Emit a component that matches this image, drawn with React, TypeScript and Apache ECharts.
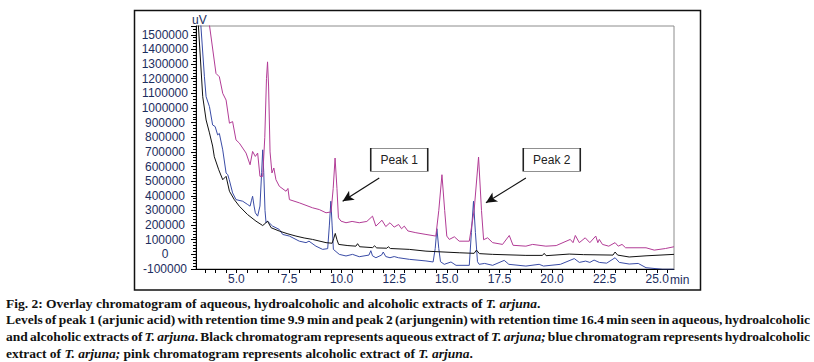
import React, { useEffect, useRef } from "react";
import * as echarts from "echarts";

// retention time (min), signal (uV)
const aqueous: [number, number][] = [
  [3.05, 1900000], [3.4, 1077000], [3.56, 918000], [3.72, 830000], [3.87, 740000],
  [3.95, 667000], [4.16, 578000], [4.35, 510000], [4.51, 533000], [4.67, 431000],
  [4.9, 374000], [5.14, 329000], [5.53, 272000], [5.93, 227000], [6.25, 197000],
  [6.4, 215000], [6.48, 227000], [6.65, 182000], [7.04, 159000], [7.45, 140000],
  [7.83, 125000], [8.22, 112000], [8.62, 102000], [9.26, 80000], [9.55, 76000],
  [9.63, 110000], [9.7, 143000], [9.78, 100000], [9.86, 68000], [10.3, 60000],
  [10.68, 56000], [10.76, 73000], [10.86, 52000], [11.47, 46000], [11.57, 58000],
  [11.67, 44000], [12.15, 42000], [12.22, 52000], [12.32, 40000], [13.22, 34000],
  [14.01, 22000], [15.59, 11000], [16.3, 7000], [16.41, 29000], [16.55, 5000],
  [17.18, 0], [18.76, -7000], [19.55, -7000], [19.63, 7000], [19.72, -9000],
  [20.82, 2000], [21.5, -2000], [22.9, -5000], [23.0, 16000], [23.12, -5000],
  [23.67, -18000], [24.47, -10000], [25.8, 0],
];

const hydroalcoholic: [number, number][] = [
  [3.1, 2000000], [3.48, 1213000], [3.56, 1077000], [3.72, 1009000], [3.87, 884000],
  [3.99, 873000], [4.11, 816000], [4.19, 826000], [4.35, 714000], [4.51, 556000],
  [4.59, 544000], [4.66, 510000], [4.82, 420000], [4.98, 374000], [5.3, 363000],
  [5.54, 340000], [5.65, 329000], [5.72, 370000], [5.77, 397000], [5.84, 330000],
  [5.9, 284000], [6.01, 261000], [6.12, 330000], [6.2, 560000], [6.25, 714000],
  [6.3, 560000], [6.36, 300000], [6.41, 216000], [6.48, 227000], [6.72, 193000],
  [7.04, 170000], [7.2, 136000], [7.52, 125000], [7.99, 90000], [8.31, 80000],
  [8.45, 90000], [8.78, 56000], [9.1, 34000], [9.34, 39000], [9.42, 200000],
  [9.49, 363000], [9.55, 200000], [9.61, 34000], [9.89, 0], [10.21, -11000],
  [10.52, 0], [10.84, -16000], [11.3, -5000], [11.39, 25000], [11.47, -10000],
  [11.63, -23000], [11.9, -5000], [11.98, 16000], [12.1, -15000], [12.3, -23000],
  [12.5, -15000], [12.7, -23000], [13.22, -34000], [14.01, -45000], [14.35, -52000],
  [14.45, 40000], [14.53, 175000], [14.62, 40000], [14.7, -50000], [14.88, -68000],
  [15.2, -52000], [15.44, -75000], [16.07, -75000], [16.17, 150000], [16.27, 363000],
  [16.36, 150000], [16.46, -50000], [16.54, -68000], [16.8, -62000], [17.18, -75000],
  [17.73, -41000], [17.95, -68000], [18.76, -80000], [19.39, -68000], [19.6, -80000],
  [20.4, -68000], [21.06, -29000], [21.3, -55000], [21.6, -46000], [21.8, -55000],
  [22.0, -39000], [22.25, -55000], [22.6, -60000], [23.0, -23000], [23.2, -55000],
  [23.67, -66000], [24.1, -62000], [24.47, -91000], [25.26, -102000], [25.8, -102000],
];

const alcoholic: [number, number][] = [
  [3.5, 1800000], [4.03, 1236000], [4.19, 1213000], [4.35, 1100000], [4.51, 1054000],
  [4.67, 896000], [4.82, 907000], [4.98, 782000], [5.14, 760000], [5.46, 692000],
  [5.65, 612000], [5.77, 703000], [5.9, 669000], [6.01, 692000], [6.12, 533000],
  [6.25, 533000], [6.35, 800000], [6.43, 1200000], [6.48, 1315000], [6.53, 1150000],
  [6.6, 700000], [6.69, 556000], [6.78, 590000], [6.88, 510000], [7.04, 465000],
  [7.36, 431000], [7.45, 450000], [7.52, 374000], [7.99, 352000], [8.62, 318000],
  [8.94, 306000], [9.26, 284000], [9.5, 290000], [9.6, 450000], [9.69, 658000],
  [9.78, 450000], [9.85, 250000], [9.97, 227000], [10.21, 216000], [10.5, 225000],
  [10.84, 216000], [11.2, 225000], [11.47, 261000], [11.63, 193000], [11.92, 233000],
  [12.1, 190000], [12.3, 216000], [12.5, 186000], [12.71, 204000], [12.85, 175000],
  [12.98, 193000], [13.15, 160000], [13.53, 148000], [14.01, 136000], [14.48, 125000],
  [14.62, 300000], [14.77, 544000], [14.9, 300000], [15.0, 125000], [15.12, 102000],
  [15.36, 120000], [15.59, 90000], [16.07, 90000], [16.3, 300000], [16.51, 665000],
  [16.65, 300000], [16.75, 100000], [16.94, 113000], [17.18, 80000], [17.65, 68000],
  [17.97, 129000], [18.15, 62000], [18.76, 56000], [19.08, 68000], [19.71, 56000],
  [20.2, 60000], [20.87, 102000], [21.0, 80000], [21.11, 129000], [21.3, 80000],
  [21.58, 113000], [21.8, 80000], [22.08, 125000], [22.18, 80000], [22.25, 102000],
  [22.4, 68000], [22.7, 56000], [23.0, 80000], [23.15, 56000], [23.33, 68000],
  [23.5, 45000], [24.47, 45000], [24.86, 29000], [25.4, 40000], [25.8, 52000],
];

const xTickValues = [3.5, 4, 4.5, 5, 5.5, 6, 6.5, 7, 7.5, 8, 8.5, 9, 9.5, 10, 10.5, 11, 11.5, 12, 12.5, 13, 13.5, 14, 14.5, 15, 15.5, 16, 16.5, 17, 17.5, 18, 18.5, 19, 19.5, 20, 20.5, 21, 21.5, 22, 22.5, 23, 23.5, 24, 24.5, 25, 25.5];
const xLabelValues = [5, 7.5, 10, 12.5, 15, 17.5, 20, 22.5, 25];

const peakNames = ["Peak 1", "Peak 2"];
const peakBoxAt: [number, number][] = [[12.74, 646000], [19.99, 646000]];
const arrowFrom: [number, number][] = [[11.79, 522000], [18.76, 522000]];
const arrowTo: [number, number][] = [[10.05, 363000], [16.86, 352000]];

const captionLines = [
  "Fig. 2: Overlay chromatogram of aqueous, hydroalcoholic and alcoholic extracts of {i|T. arjuna}.",
  "Levels of peak 1 (arjunic acid) with retention time 9.9 min and peak 2 (arjungenin) with retention time 16.4 min seen in aqueous, hydroalcoholic",
  "and alcoholic extracts of {i|T. arjuna}. Black chromatogram represents aqueous extract of {i|T. arjuna;} blue chromatogram represents hydroalcoholic",
  "extract of {i|T. arjuna;} pink chromatogram represents alcoholic extract of {i|T. arjuna}.",
];
const captionJustified = [false, true, true, false];

const labelColor = "#1c2d5e";
const sans = "Liberation Sans, Arial, sans-serif";
const serifFamily = '"Liberation Serif", "Times New Roman", serif';

type Piece = { t: string; it: boolean };

function parsePieces(s: string): Piece[] {
  const out: Piece[] = [];
  const re = /\{i\|([^}]*)\}/g;
  let last = 0;
  let m: RegExpExecArray | null;
  while ((m = re.exec(s))) {
    if (m.index > last) out.push({ t: s.slice(last, m.index), it: false });
    out.push({ t: m[1], it: true });
    last = m.index + m[0].length;
  }
  if (last < s.length) out.push({ t: s.slice(last), it: false });
  return out;
}

function splitWords(pieces: Piece[]): Piece[][] {
  const words: Piece[][] = [];
  let cur: Piece[] = [];
  for (const p of pieces) {
    const parts = p.t.split(" ");
    parts.forEach((part, idx) => {
      if (idx > 0) {
        if (cur.length) words.push(cur);
        cur = [];
      }
      if (part.length) cur.push({ t: part, it: p.it });
    });
  }
  if (cur.length) words.push(cur);
  return words;
}

export default function App() {
  const ref = useRef<HTMLDivElement>(null);
  useEffect(() => {
    if (!ref.current) return;
    const chart = echarts.init(ref.current, undefined, { renderer: "svg" });
    const captionFont = 13.5;
    const fontOf = (it: boolean) => `${it ? "italic " : ""}bold ${captionFont}px ${serifFamily}`;
    const ctx = document.createElement("canvas").getContext("2d")!;
    const measure = (t: string, it: boolean) => {
      ctx.font = fontOf(it);
      return ctx.measureText(t).width;
    };
    const spaceW = measure(" ", false);
    const captionLeft = 6;
    const captionRight = 810;

    const captionEls: any[] = [];
    captionLines.forEach((line, li) => {
      const words = splitWords(parsePieces(line));
      const widths = words.map((w) => w.reduce((s, p) => s + measure(p.t, p.it), 0));
      const total = widths.reduce((a, b) => a + b, 0);
      let gap = spaceW;
      if (captionJustified[li] && words.length > 1) {
        gap = Math.max(1.5, (captionRight - captionLeft - total) / (words.length - 1));
      }
      let x = captionLeft;
      const y = 303 + li * 16.7;
      words.forEach((w, wi) => {
        let px = x;
        w.forEach((p) => {
          captionEls.push({
            type: "text", x: px, y,
            style: { text: p.t, fill: "#111", verticalAlign: "middle", font: fontOf(p.it) },
          });
          px += measure(p.t, p.it);
        });
        x += widths[wi] + gap;
      });
    });

    chart.setOption({
      animation: false,
      backgroundColor: "#fff",
      grid: {
        left: 196, right: 140, top: 26, bottom: 93,
        show: true, borderColor: "#8c8c8c", borderWidth: 1,
      },
      xAxis: {
        type: "value", min: 3.08, max: 25.8,
        axisLine: { show: true, onZero: false, lineStyle: { color: "#000", width: 1 } },
        axisTick: { show: true, length: 4, customValues: xTickValues, lineStyle: { color: "#000" } },
        axisLabel: {
          customValues: xLabelValues, margin: 4, fontSize: 12, fontFamily: sans, color: labelColor,
          formatter: (v: number) => v.toFixed(1),
        },
        splitLine: { show: false },
      },
      yAxis: {
        type: "value", min: -100000, max: 1560000, interval: 100000,
        axisLine: { show: true, lineStyle: { color: "#000", width: 1 } },
        axisTick: { show: true, length: 5, lineStyle: { color: "#000" } },
        minorTick: { show: true, splitNumber: 5, length: 3, lineStyle: { color: "#000" } },
        axisLabel: {
          align: "center", margin: 31, fontSize: 12, fontFamily: sans, color: labelColor,
          showMaxLabel: false,
          formatter: (v: number) => String(Math.round(v)),
        },
        splitLine: { show: false },
      },
      series: [
        {
          type: "line", name: "Aqueous", data: aqueous, symbol: "none", clip: true,
          lineStyle: { color: "#111", width: 1 }, z: 3,
          markLine: {
            silent: true, symbol: ["none", "arrow"], symbolSize: [8, 11],
            lineStyle: { color: "#111", width: 1.2, type: "solid" },
            label: { show: false },
            data: arrowFrom.map((f, i) => [{ coord: f }, { coord: arrowTo[i] }]),
          },
          markPoint: {
            silent: true, symbol: "rect", symbolSize: [57, 23],
            itemStyle: { color: "#fff", borderColor: "#222", borderWidth: 1 },
            label: {
              show: true, position: "inside", color: "#222", fontSize: 12, fontFamily: sans,
              formatter: (p: any) => p.name,
            },
            data: peakNames.map((n, i) => ({ name: n, coord: peakBoxAt[i] })),
          },
        },
        {
          type: "line", name: "Hydroalcoholic", data: hydroalcoholic, symbol: "none", clip: true,
          lineStyle: { color: "#3a4ca6", width: 1 }, z: 2,
        },
        {
          type: "line", name: "Alcoholic", data: alcoholic, symbol: "none", clip: true,
          lineStyle: { color: "#b23c96", width: 1 }, z: 2,
        },
      ],
      graphic: [
        {
          type: "rect", silent: true, z: -1,
          shape: { x: 134.5, y: 10.5, width: 566, height: 279.5 },
          style: { fill: "none", stroke: "#111", lineWidth: 1.5 },
        },
        {
          type: "text", x: 192, y: 20,
          style: { text: "uV", font: `12px ${sans}`, fill: labelColor, verticalAlign: "middle" },
        },
        {
          type: "text", x: 670, y: 280,
          style: { text: "min", font: `12px ${sans}`, fill: labelColor, verticalAlign: "middle" },
        },
        ...captionEls,
      ],
    });
    return () => chart.dispose();
  }, []);
  return (
    <div
      ref={ref}
      style={{ position: "absolute", left: 0, top: 0, width: 814, height: 362 }}
    />
  );
}
